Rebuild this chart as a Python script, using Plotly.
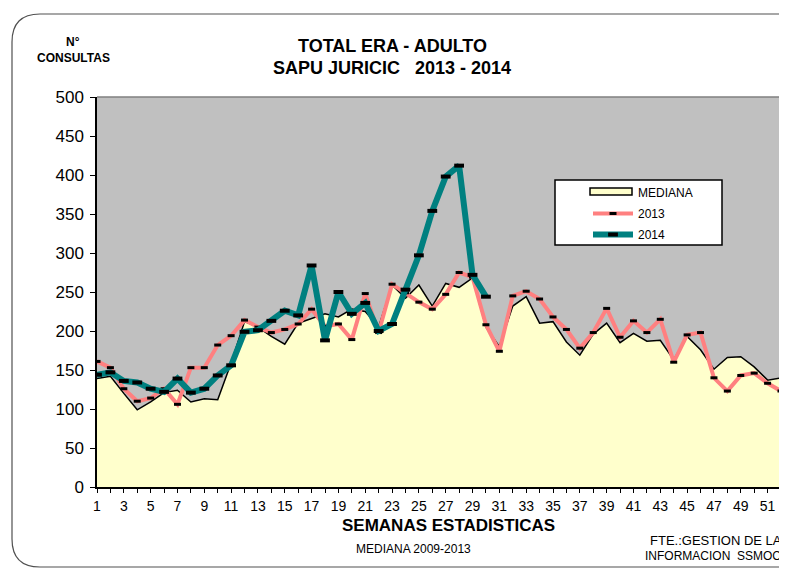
import plotly.graph_objects as go

semanas = list(range(1, 53))

mediana = [139, 142, 120, 99, 109, 121, 124, 109, 113, 112, 159, 212, 205,
           193, 183, 210, 216, 222, 218, 228, 225, 205, 259, 242, 259, 232,
           261, 256, 268, 205, 180, 232, 244, 210, 212, 186, 169, 196, 210,
           185, 197, 187, 188, 163, 193, 176, 151, 166, 167, 154, 137, 140]

y2013 = [161, 153, 126, 110, 114, 126, 106, 153, 153, 182, 194, 214, 205,
         198, 202, 209, 228, 206, 209, 189, 248, 198, 260, 249, 237, 228,
         247, 275, 269, 208, 174, 245, 251, 241, 218, 202, 178, 198, 229,
         192, 213, 198, 215, 160, 195, 198, 140, 123, 143, 146, 133, 123]

y2014 = [144, 147, 136, 134, 126, 122, 139, 121, 126, 143, 156, 199, 201,
         213, 226, 220, 284, 188, 250, 222, 236, 200, 209, 253, 297, 354,
         398, 412, 272, 244]

xticks = list(range(1, 53, 2))
yticks = list(range(0, 501, 50))

FONT = "Liberation Sans, Arial, sans-serif"

# the page body adds an 8px margin, so the figure is drawn 8px smaller
OFF = 8
W, H = 787 - OFF, 569 - OFF
# plot area in page pixels: x 97..781, y 97..487
L, T = 97 - OFF, 97 - OFF
R, B = W - (781 - OFF), H - (487 - OFF)
PW, PH = W - L - R, H - T - B


def px(x):
    # page pixel -> paper x
    return (x - OFF - L) / PW


def py(y):
    # page pixel -> paper y
    return (H - B - (y - OFF)) / PH


fig = go.Figure()

fig.add_trace(go.Scatter(
    x=semanas, y=mediana, name="MEDIANA", mode="lines", showlegend=False,
    fill="tozeroy", fillcolor="#FFFFCC",
    line=dict(color="black", width=1.5)))
# legend entry only; its boxed swatch is drawn as a shape below
fig.add_trace(go.Scatter(
    x=[None], y=[None], name="MEDIANA", mode="lines", legendgroup="a",
    line=dict(color="rgba(0,0,0,0)", width=1)))

fig.add_trace(go.Scatter(
    x=semanas, y=y2013, name="2013", mode="lines+markers", legendgroup="b",
    line=dict(color="#FF8080", width=4),
    marker=dict(symbol="line-ew", size=5, color="black",
                line=dict(color="black", width=3))))

fig.add_trace(go.Scatter(
    x=semanas[:len(y2014)], y=y2014, name="2014", mode="lines+markers",
    legendgroup="c",
    line=dict(color="#008080", width=6),
    marker=dict(symbol="line-ew", size=7, color="black",
                line=dict(color="black", width=4))))

fig.update_layout(
    width=W, height=H,
    margin=dict(l=L, r=R, t=T, b=B),
    paper_bgcolor="white",
    plot_bgcolor="#C0C0C0",
    font=dict(family=FONT, color="black"),
    showlegend=True,
    legend=dict(x=px(588), y=py(178), xanchor="left", yanchor="top",
                bgcolor="rgba(0,0,0,0)", borderwidth=0,
                font=dict(size=12), itemwidth=40,
                traceorder="grouped", tracegroupgap=2),
)

fig.update_xaxes(
    range=[1, 52], tickvals=xticks, ticks="outside", ticklen=4,
    tickcolor="black", tickfont=dict(size=14), ticklabelstandoff=1,
    showline=True, linecolor="black", linewidth=1.5,
    showgrid=False, zeroline=False,
    minor=dict(dtick=1, tick0=1, ticks="outside", ticklen=4,
               tickcolor="black", showgrid=False))

fig.update_yaxes(
    range=[0, 500], tickvals=yticks, ticks="outside", ticklen=5,
    tickcolor="black", tickfont=dict(size=17), ticklabelstandoff=3,
    showline=True, linecolor="black", linewidth=1.5,
    showgrid=False, zeroline=False)

# legend box and MEDIANA swatch, plot top/right border, outer rounded frame
fig.add_shape(type="rect", xref="paper", yref="paper",
              x0=px(555), x1=px(722), y0=py(245), y1=py(180),
              fillcolor="white", line=dict(color="black", width=1.5),
              layer="below")
fig.add_shape(type="rect", xref="paper", yref="paper",
              x0=px(590), x1=px(632), y0=py(195), y1=py(188),
              fillcolor="#FFFFCC", line=dict(color="black", width=1.5))
fig.add_shape(type="path", xref="paper", yref="paper",
              path="M 0,1 L 1,1 L 1,0", line=dict(color="#808080", width=1.5))
fig.add_shape(type="line", xref="x", yref="y",
              x0=semanas[-1], x1=semanas[-1], y0=0, y1=mediana[-1],
              line=dict(color="black", width=1.5))
fx0, fx1, fy0, fy1 = px(12), px(787), py(567), py(14)
rx, ry = 28 / PW, 28 / PH
fig.add_shape(type="path", xref="paper", yref="paper",
              path=(f"M {fx1},{fy1} L {fx0 + rx},{fy1} "
                    f"Q {fx0},{fy1} {fx0},{fy1 - ry} "
                    f"L {fx0},{fy0 + ry} Q {fx0},{fy0} {fx0 + rx},{fy0} "
                    f"L {fx1},{fy0}"),
              line=dict(color="#505050", width=1.2))

annots = [
    ("N°", 73, 42, 12, True, "center"),
    ("CONSULTAS", 73, 58, 12, True, "center"),
    ("TOTAL ERA - ADULTO", 392, 46, 18, True, "center"),
    ("SAPU JURICIC   2013 - 2014", 392, 68, 18, True, "center"),
    ("SEMANAS ESTADISTICAS", 448, 525, 17, True, "center"),
    ("MEDIANA 2009-2013", 413, 549, 12, False, "center"),
    ("FTE.:GESTION DE LA", 648, 540, 13, False, "left"),
    ("INFORMACION  SSMOC", 643, 556, 12, False, "left"),
]
for text, x, y, size, bold, anchor in annots:
    fig.add_annotation(
        text="<b>" + text + "</b>" if bold else text,
        xref="paper", yref="paper", x=px(x), y=py(y),
        xanchor=anchor, yanchor="middle", showarrow=False,
        font=dict(size=size, family=FONT, color="black"))

fig.write_html("out.html")
